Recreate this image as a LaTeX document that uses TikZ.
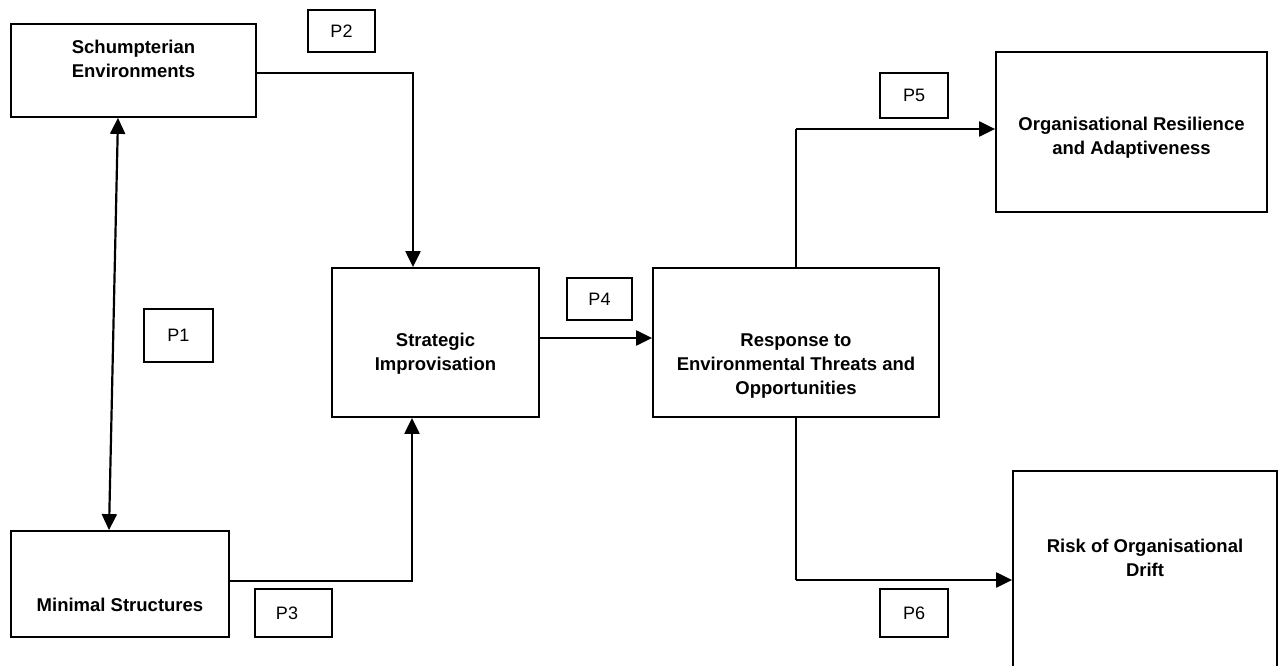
\documentclass[tikz,border=0pt]{standalone}
\usepackage{fontspec}
\setmainfont{Liberation Sans}
\usetikzlibrary{arrows.meta,calc}
\begin{document}
\begin{tikzpicture}[x=1pt,y=-1pt,
  box/.style={draw=black, line width=1.8pt, fill=none, inner sep=0pt},
  pbox/.style={draw=black, line width=1.6pt, inner sep=0pt, font=\fontsize{18}{22}\selectfont},
  lbl/.style={align=center, inner sep=0pt, font=\bfseries\fontsize{18.5}{24}\selectfont},
  conn/.style={line width=2.2pt, -{Triangle[length=16pt,width=15pt]}},
  conn2/.style={line width=2.2pt, {Triangle[length=16pt,width=15pt]}-{Triangle[length=16pt,width=15pt]}},
  plain/.style={line width=2.2pt}
]
\useasboundingbox (0,0) rectangle (1282,666);
\clip (0,0) rectangle (1282,666);
% boxes
\node[box, minimum width=245pt, minimum height=93pt] (schum) at (133.5,70.5) {};
\node[lbl] (schumT) at (133.5,59) {Schumpterian\\Environments};
\node[box, minimum width=218pt, minimum height=106pt] (minimal) at (120,584) {};
\node[lbl] (minT) at (120,605) {Minimal Structures};
\node[box, minimum width=207pt, minimum height=149pt] (strat) at (435.5,342.5) {};
\node[lbl] (stratT) at (435.5,353.5) {Strategic\\Improvisation};
\node[box, minimum width=286pt, minimum height=149pt] (resp) at (796,342.5) {};
\node[lbl] (respT) at (796,366) {Response to\\Environmental Threats and\\Opportunities};
\node[box, minimum width=271pt, minimum height=160pt] (org) at (1131.5,132) {};
\node[lbl] (orgT) at (1131.5,138) {Organisational Resilience\\and Adaptiveness};
\node[box, minimum width=264pt, minimum height=260pt] (risk) at (1145,601) {};
\node[lbl] (riskT) at (1145,557.5) {Risk of Organisational\\Drift};
% P labels
\node[pbox, minimum width=67pt, minimum height=42pt] (p2) at (341.5,31) {P2};
\node[pbox, minimum width=69pt, minimum height=53pt] (p1) at (178.5,335.5) {P1};
\node[pbox, minimum width=77pt, minimum height=48pt] (p3) at (293.5,613) {};
\node[font=\fontsize{18}{22}\selectfont, inner sep=0pt] (p3T) at (287,613) {P3};
\node[pbox, minimum width=65pt, minimum height=42pt] (p4) at (599.5,299) {P4};
\node[pbox, minimum width=68pt, minimum height=45pt] (p5) at (914,95.5) {P5};
\node[pbox, minimum width=68pt, minimum height=48pt] (p6) at (914,613) {P6};
% connectors
\coordinate (c2) at ($(schum.east)+(0,2.5)$);
\draw[conn] (c2) -| ($(strat.north)+(-22.5,0)$);
\coordinate (c3) at ($(minimal.east)+(0,-3)$);
\draw[conn] (c3) -| ($(strat.south)+(-23.5,0)$);
\draw[conn] ($(strat.east)+(0,-4.5)$) -- ($(resp.west)+(0,-4.5)$);
\coordinate (c5) at (796,129);
\draw[plain] (resp.north) -- (c5);
\draw[conn] (c5) -- ($(org.west)+(0,-3)$);
\coordinate (c6) at (796,580);
\draw[plain] (resp.south) -- (c6);
\draw[conn] (c6) -- ($(risk.west)+(0,-21)$);
\draw[conn2] ($(schum.south)+(-15.5,0)$) -- ($(minimal.north)+(-11,0)$);
\end{tikzpicture}
\end{document}
